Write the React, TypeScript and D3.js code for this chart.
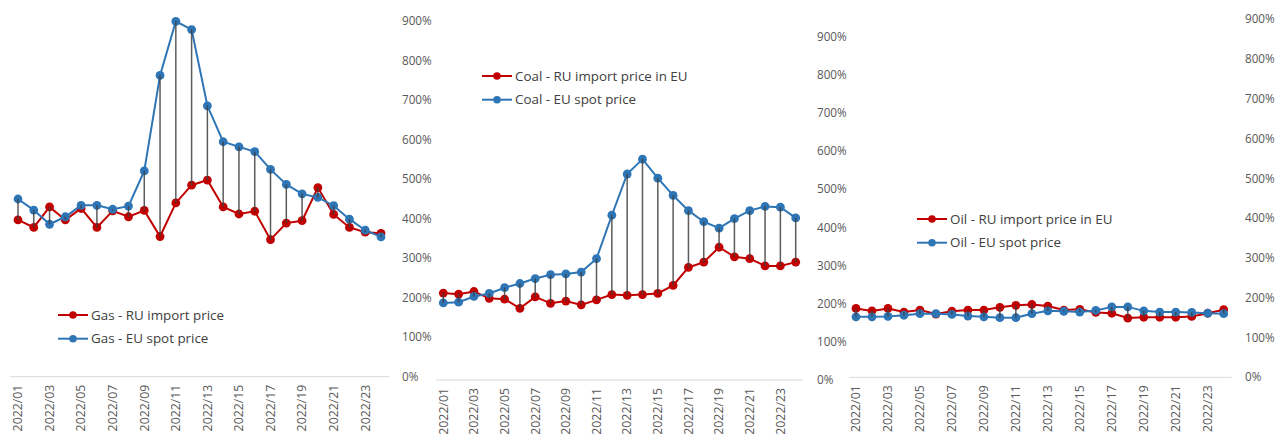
import React from "react";
import * as d3 from "d3";

// weeks 2022/01 .. 2022/24
const weeks = d3.range(1, 25).map((w) => `2022/${String(w).padStart(2, "0")}`);
const tickWeeks = weeks.filter((_, i) => i % 2 === 0);
const yTicks = [0, 100, 200, 300, 400, 500, 600, 700, 800, 900];

// values in % (index)
const gasRu = [397, 378, 430, 397, 426, 378, 420, 405, 421, 355, 440, 485, 498, 430, 412, 419, 347, 389, 395, 479, 411, 378, 366, 363];
const gasEu = [450, 422, 386, 405, 434, 434, 424, 432, 521, 763, 900, 879, 686, 595, 582, 570, 525, 487, 463, 454, 433, 399, 371, 354];
const coalRu = [228, 225, 232, 214, 212, 188, 218, 201, 207, 197, 210, 224, 222, 224, 227, 248, 295, 309, 348, 323, 318, 299, 299, 309];
const coalEu = [202, 204, 219, 227, 242, 253, 266, 276, 278, 283, 318, 432, 540, 579, 529, 484, 444, 415, 398, 423, 444, 455, 453, 425];
const oilRu = [173, 167, 173, 164, 169, 159, 166, 169, 169, 176, 181, 183, 179, 169, 171, 163, 161, 149, 151, 151, 151, 153, 161, 170];
const oilEu = [152, 152, 153, 156, 160, 160, 158, 154, 152, 150, 150, 160, 167, 166, 164, 168, 177, 177, 167, 164, 164, 163, 161, 160];

const RED = "#C00000";
const BLUE = "#2E75B6";
const FONT = "'Open Sans', sans-serif";

const panels = [
  {
    ru: gasRu, eu: gasEu, ruName: "Gas - RU import price", euName: "Gas - EU spot price",
    x0: 18, x1: 381, y0: 376.7, y1: 21.3, ax0: 10, ax1: 389, labelX: 402, legX: 58, legY: 315,
  },
  {
    ru: coalRu, eu: coalEu, ruName: "Coal - RU import price in EU", euName: "Coal - EU spot price",
    x0: 443.3, x1: 795.7, y0: 380, y1: 36.7, ax0: 436, ax1: 802.7, labelX: 817, legX: 482, legY: 76,
  },
  {
    ru: oilRu, eu: oilEu, ruName: "Oil - RU import price in EU", euName: "Oil - EU spot price",
    x0: 856, x1: 1223.7, y0: 377.3, y1: 19.3, ax0: 849, ax1: 1231.7, labelX: 1245, legX: 917, legY: 219,
  },
];

function Panel({ p }: { p: (typeof panels)[number] }) {
  const x = d3.scalePoint<string>().domain(weeks).range([p.x0, p.x1]);
  const y = d3.scaleLinear().domain([0, 900]).range([p.y0, p.y1]);
  const line = d3
    .line<number>()
    .x((_, i) => x(weeks[i])!)
    .y((d) => y(d));

  const series = [
    { data: p.ru, color: RED, name: p.ruName },
    { data: p.eu, color: BLUE, name: p.euName },
  ];

  return (
    <g>
      <line x1={p.ax0} x2={p.ax1} y1={y(0)} y2={y(0)} stroke="#D9D9D9" strokeWidth={1} />
      {yTicks.map((t) => (
        <text key={t} x={p.labelX} y={y(t)} dy="0.35em" fontSize={11.7} fill="#595959" fontFamily={FONT}>
          {t}%
        </text>
      ))}
      {tickWeeks.map((w) => (
        <text
          key={w}
          transform={`translate(${x(w)},${y(0) + 8}) rotate(-90)`}
          textAnchor="end"
          dy="0.35em"
          fontSize={12.3}
          fill="#595959"
          fontFamily={FONT}
        >
          {w}
        </text>
      ))}
      {series.map((s) => (
        <g key={s.name}>
          <path d={line(s.data)!} fill="none" stroke={s.color} strokeWidth={2} />
          {s.data.map((d, i) => (
            <circle key={i} cx={x(weeks[i])} cy={y(d)} r={4.4} fill={s.color} />
          ))}
        </g>
      ))}
      {weeks.map((w, i) => (
        <line
          key={w}
          x1={x(w)}
          x2={x(w)}
          y1={y(p.ru[i])}
          y2={y(p.eu[i])}
          stroke="#404040"
          strokeWidth={1.5}
          opacity={0.85}
        />
      ))}
      {series.map((s, k) => (
        <g key={s.name} transform={`translate(${p.legX},${p.legY + k * 23.7})`}>
          <line x1={0} x2={30} y1={0} y2={0} stroke={s.color} strokeWidth={2} />
          <circle cx={15} cy={0} r={3.8} fill={s.color} />
          <text x={33} dy="0.35em" fontSize={13.4} fill="#404040" fontFamily={FONT}>
            {s.name}
          </text>
        </g>
      ))}
    </g>
  );
}

export default function App() {
  return (
    <svg
      width={1279}
      height={434}
      style={{ position: "absolute", left: 0, top: 0, background: "#fff" }}
    >
      {panels.map((p) => (
        <Panel key={p.ruName} p={p} />
      ))}
    </svg>
  );
}
